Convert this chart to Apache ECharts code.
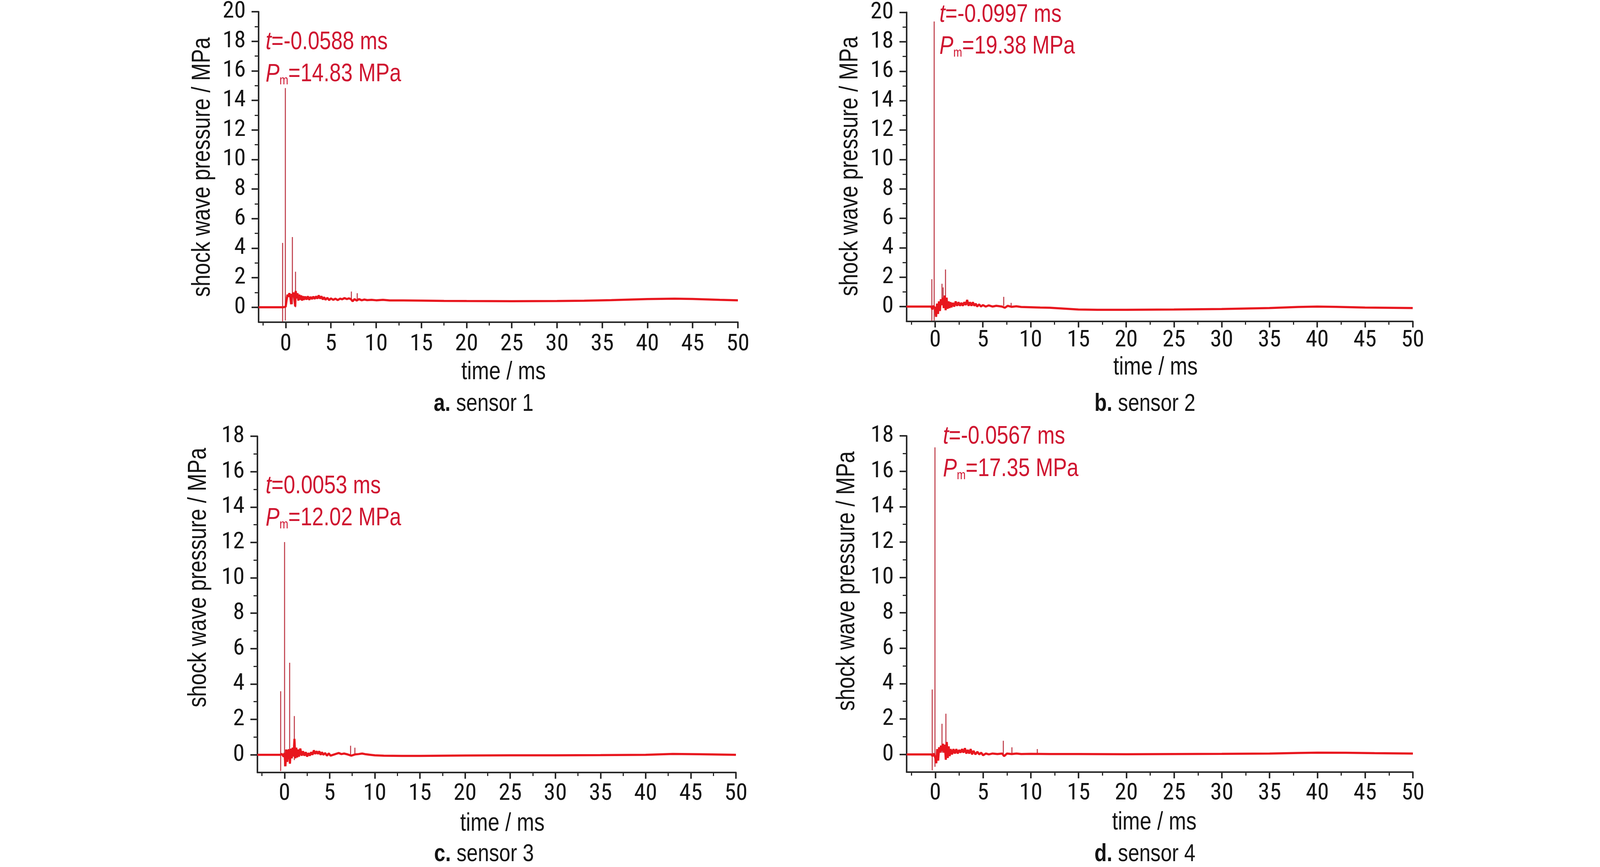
<!DOCTYPE html>
<html>
<head>
<meta charset="utf-8">
<script src="https://cdn.jsdelivr.net/npm/echarts@6/dist/echarts.min.js"></script>
<style>
html,body{margin:0;padding:0;background:#fff;}
#chart{width:4134px;height:2220px;}
</style>
</head>
<body>
<div id="chart"></div>
<script>
// ---------------- data ----------------
const xTicks = [0, 5, 10, 15, 20, 25, 30, 35, 40, 45, 50];
const xMinorTicks = [-2.5, 2.5, 7.5, 12.5, 17.5, 22.5, 27.5, 32.5, 37.5, 42.5, 47.5];
const yTicks20 = [0, 2, 4, 6, 8, 10, 12, 14, 16, 18, 20];
const yMinor20 = [1, 3, 5, 7, 9, 11, 13, 15, 17, 19];
const yTicks18 = [0, 2, 4, 6, 8, 10, 12, 14, 16, 18];
const yMinor18 = [1, 3, 5, 7, 9, 11, 13, 15, 17];

const captionLetters = ['a.', 'b.', 'c.', 'd.'];
const captionNames = ['sensor 1', 'sensor 2', 'sensor 3', 'sensor 4'];
const peakTimes = ['-0.0588', '-0.0997', '0.0053', '-0.0567'];
const peakPressures = ['14.83', '19.38', '12.02', '17.35'];

// main traces [time ms, pressure MPa]
const traceA = [[-3,0],[-0.4,0],[-0.3,0],[-0.1,0.02],[0,0.05],[0.1,0.5],[0.2,0.85],[0.3,0.7],[0.4,0.95],[0.5,0.75],[0.6,0.2],[0.65,0.9],[0.75,0.7],[0.85,1.0],[0.95,0.55],[1.05,0.05],[1.1,1.1],[1.2,0.6],[1.3,0.95],[1.4,0.45],[1.5,0.85],[1.6,0.5],[1.7,0.8],[1.8,0.45],[1.9,0.75],[2.0,0.5],[2.15,0.72],[2.3,0.52],[2.45,0.74],[2.6,0.5],[2.75,0.7],[2.9,0.55],[3.05,0.72],[3.2,0.56],[3.35,0.74],[3.5,0.58],[3.65,0.8],[3.8,0.58],[3.95,0.74],[4.1,0.52],[4.25,0.68],[4.4,0.5],[4.6,0.64],[4.8,0.48],[5.0,0.6],[5.25,0.5],[5.5,0.58],[5.75,0.48],[6.0,0.58],[6.25,0.54],[6.5,0.62],[6.75,0.55],[7.0,0.6],[7.2,0.55],[7.4,0.4],[7.6,0.55],[7.85,0.45],[8.1,0.55],[8.4,0.47],[8.7,0.52],[9.0,0.48],[9.5,0.5],[10,0.47],[10.75,0.5],[11.5,0.46],[13,0.46],[15,0.45],[17.5,0.43],[20,0.42],[25,0.41],[30,0.42],[33,0.44],[36,0.48],[40,0.55],[43,0.58],[45,0.56],[48,0.5],[50,0.47]];
const traceB = [[-3,0],[-0.4,0],[-0.3,-0.2],[-0.2,0.05],[0,-0.1],[0.1,-0.7],[0.2,0.2],[0.3,-0.5],[0.4,0.35],[0.5,-0.3],[0.6,0.5],[0.7,0.1],[0.8,0.6],[0.9,-0.1],[1.0,0.75],[1.1,-0.25],[1.2,0.6],[1.3,-0.15],[1.4,0.35],[1.5,-0.1],[1.6,0.3],[1.7,-0.05],[1.85,0.25],[2.0,0.0],[2.15,0.35],[2.3,0.05],[2.45,0.3],[2.6,0.05],[2.75,0.25],[2.9,0.05],[3.05,0.3],[3.2,0.1],[3.35,0.45],[3.5,0.05],[3.65,0.3],[3.8,0.05],[3.95,0.3],[4.1,0.05],[4.25,0.2],[4.4,0.0],[4.6,0.15],[4.8,0.0],[5.0,0.1],[5.3,0.0],[5.6,0.08],[6.0,0.0],[6.4,0.05],[7.0,0.0],[7.3,-0.08],[7.6,0.05],[8.0,-0.02],[8.5,0.02],[9,-0.03],[10,-0.05],[11,-0.07],[12,-0.08],[13,-0.12],[14,-0.16],[15,-0.2],[17,-0.22],[20,-0.22],[25,-0.2],[30,-0.17],[35,-0.1],[38,-0.03],[40,0.0],[42,-0.02],[45,-0.07],[50,-0.1]];
const traceC = [[-3,0],[-0.45,0],[-0.3,0.05],[-0.1,-0.1],[0,0.1],[0.1,-0.65],[0.2,0.3],[0.3,-0.4],[0.4,0.2],[0.5,0.3],[0.6,-0.5],[0.7,0.35],[0.8,-0.2],[0.9,0.4],[1.0,-0.1],[1.1,0.9],[1.2,-0.2],[1.3,0.4],[1.4,-0.15],[1.5,0.3],[1.6,-0.1],[1.75,0.35],[1.9,-0.05],[2.05,0.2],[2.2,-0.05],[2.35,0.15],[2.5,-0.1],[2.65,0.1],[2.8,-0.05],[2.95,0.15],[3.1,0.0],[3.25,0.25],[3.4,0.05],[3.55,0.2],[3.7,0.05],[3.85,0.2],[4.0,0.0],[4.15,0.15],[4.3,0.0],[4.5,0.1],[4.7,-0.05],[4.9,0.08],[5.1,-0.05],[5.4,0.0],[5.7,0.05],[6.0,0.1],[6.3,0.04],[6.6,0.07],[7.0,0.02],[7.4,-0.05],[7.8,0.02],[8.2,0.04],[8.6,0.07],[9.0,0.03],[9.5,0.0],[10,-0.03],[11,-0.05],[13,-0.06],[15,-0.06],[20,-0.04],[25,-0.03],[30,-0.03],[35,-0.02],[40,0.0],[43,0.05],[46,0.03],[50,0.0]];
const traceD = [[-3,0],[-0.4,0],[-0.3,-0.1],[-0.15,0.05],[0,-0.2],[0.1,-0.5],[0.2,0.3],[0.3,-0.35],[0.4,0.4],[0.5,0.1],[0.6,0.5],[0.7,0.2],[0.8,0.6],[0.9,0.1],[1.0,0.55],[1.1,-0.3],[1.2,0.7],[1.3,-0.2],[1.4,0.45],[1.5,-0.1],[1.6,0.3],[1.75,0.0],[1.9,0.3],[2.05,0.05],[2.2,0.3],[2.35,0.05],[2.5,0.25],[2.65,0.1],[2.8,0.3],[2.95,0.1],[3.1,0.35],[3.25,0.05],[3.4,0.25],[3.55,0.05],[3.7,0.3],[3.85,0.0],[4.0,0.2],[4.2,0.0],[4.4,0.15],[4.6,0.0],[4.8,0.1],[5.0,-0.05],[5.3,0.05],[5.6,0.0],[6.0,0.05],[6.5,0.02],[7.0,0.05],[7.2,-0.1],[7.5,0.05],[8.0,0.02],[8.5,0.05],[9,0.02],[10,0.03],[12,0.02],[15,0.02],[20,0.01],[25,0.02],[30,0.03],[35,0.05],[38,0.08],[40,0.1],[43,0.09],[46,0.07],[50,0.05]];

// spikes [time ms, low MPa, high MPa]
const spikesA = [[-0.36,-0.97,4.35],[-0.0588,-0.9,14.83],[0.72,0.2,4.75],[1.08,0.0,2.4],[7.26,0.45,1.06],[7.9,0.45,0.95]];
const spikesB = [[-0.37,-0.97,1.86],[-0.0997,-0.95,19.38],[0.7,0.1,1.55],[0.85,0.2,1.3],[1.06,-0.2,2.52],[7.17,0.05,0.66],[7.95,0.0,0.25]];
const spikesC = [[-0.43,-0.92,3.59],[0.0053,-0.65,12.02],[0.58,-0.5,5.2],[1.08,-0.3,2.19],[7.3,0.0,0.51],[7.77,0.0,0.4]];
const spikesD = [[-0.34,-0.9,3.67],[-0.0567,-0.7,17.35],[0.71,0.1,1.73],[1.11,-0.3,2.3],[7.13,-0.1,0.77],[8.0,0.0,0.4],[10.65,0.0,0.3]];

const traces = [traceA, traceB, traceC, traceD];
const spikes = [spikesA, spikesB, spikesC, spikesD];
const yMax = [20, 20, 18, 18];

// ---------------- layout / style ----------------
const FONT = "'Liberation Sans', Arial, sans-serif";
const TICK_FONT = "'Roboto Condensed', 'Liberation Sans', sans-serif";
const NARROW = 0.82;
const INK = '#141414';
const AXIS = '#2a2a2a';
const RED_TXT = '#cf1530';
const RED_LINE = '#e8161e';
const SPIKE = '#c0404c';

const grids = [
  {left: 662, top: 29.5, width: 1227, height: 795},
  {left: 2320.6, top: 31.6, width: 1296, height: 791},
  {left: 659, top: 1117, width: 1225, height: 861},
  {left: 2321, top: 1116, width: 1296, height: 861}
];
const xLabelMargin = [27, 19, 25, 25];
const yNamePos = [[519, 428], [2177, 426], [509, 1479], [2169, 1488]];
const xNamePos = [[1289, 953], [2958, 941], [1286, 2109], [2955, 2106]];
const capPos = [[1238, 1035], [2931, 1035], [1239, 2188], [2931, 2188]];
const annPos = [[680, 108, 185], [2405, 38, 114], [680, 1245, 1322], [2414, 1118, 1196]];

const xAxes = [], yAxes = [], series = [], graphic = [];
grids.forEach((g, i) => {
  const yt = yMax[i] === 20 ? yTicks20 : yTicks18;
  const ym = yMax[i] === 20 ? yMinor20 : yMinor18;
  xAxes.push({
    type: 'value', gridIndex: i, min: -3, max: 50, position: 'bottom',
    axisLine: {show: true, onZero: false, lineStyle: {color: AXIS, width: 4}},
    axisTick: {show: true, customValues: xTicks, length: 16, lineStyle: {color: AXIS, width: 4}},
    axisLabel: {show: true, customValues: xTicks, margin: xLabelMargin[i], fontSize: 60, color: INK, fontFamily: TICK_FONT},
    splitLine: {show: false}
  });
  xAxes.push({
    type: 'value', gridIndex: i, min: -3, max: 50, position: 'bottom',
    axisLine: {show: false, onZero: false},
    axisTick: {show: true, customValues: xMinorTicks, length: 9, lineStyle: {color: AXIS, width: 3}},
    axisLabel: {show: false, customValues: xMinorTicks},
    splitLine: {show: false}
  });
  yAxes.push({
    type: 'value', gridIndex: i, min: -1, max: yMax[i], position: 'left',
    axisLine: {show: true, onZero: false, lineStyle: {color: AXIS, width: 4}},
    axisTick: {show: true, customValues: yt, length: 18, lineStyle: {color: AXIS, width: 4}},
    axisLabel: {show: true, customValues: yt, margin: 33, fontSize: 60, color: INK, fontFamily: TICK_FONT},
    splitLine: {show: false}
  });
  yAxes.push({
    type: 'value', gridIndex: i, min: -1, max: yMax[i], position: 'left',
    axisLine: {show: false, onZero: false},
    axisTick: {show: true, customValues: ym, length: 10, lineStyle: {color: AXIS, width: 3}},
    axisLabel: {show: false, customValues: ym},
    splitLine: {show: false}
  });
  series.push({
    type: 'lines', coordinateSystem: 'cartesian2d', xAxisIndex: 2 * i, yAxisIndex: 2 * i,
    z: 2, silent: true,
    lineStyle: {color: SPIKE, width: 3, opacity: 0.9},
    data: spikes[i].map(s => ({coords: [[s[0], s[1]], [s[0], s[2]]]}))
  });
  series.push({
    type: 'line', xAxisIndex: 2 * i, yAxisIndex: 2 * i, z: 3, silent: true,
    showSymbol: false, symbol: 'none', animation: false,
    lineStyle: {color: RED_LINE, width: 5.5},
    data: traces[i]
  });

  graphic.push({
    type: 'text', x: yNamePos[i][0], y: yNamePos[i][1], rotation: Math.PI / 2, scaleX: NARROW,
    style: {text: 'shock wave pressure / MPa', fontSize: 66, fontFamily: FONT, fill: INK, align: 'center', verticalAlign: 'middle'}
  });
  graphic.push({
    type: 'text', x: xNamePos[i][0], y: xNamePos[i][1], scaleX: NARROW,
    style: {text: 'time / ms', fontSize: 65, fontFamily: FONT, fill: INK, align: 'center', verticalAlign: 'middle'}
  });
  graphic.push({
    type: 'text', x: capPos[i][0], y: capPos[i][1], scaleX: NARROW,
    style: {
      text: '{b|' + captionLetters[i] + '}{n| ' + captionNames[i] + '}',
      align: 'center', verticalAlign: 'middle', fill: INK,
      rich: {
        b: {fontSize: 63, fontWeight: 'bold', fontFamily: FONT, fill: INK},
        n: {fontSize: 63, fontFamily: FONT, fill: INK}
      }
    }
  });
  graphic.push({
    type: 'text', x: annPos[i][0], y: annPos[i][1], scaleX: NARROW,
    style: {
      text: '{it|t}{n|=' + peakTimes[i] + ' ms}',
      align: 'left', verticalAlign: 'middle', fill: RED_TXT,
      rich: {
        it: {fontSize: 65, fontStyle: 'italic', fontFamily: FONT, fill: RED_TXT},
        n: {fontSize: 65, fontFamily: FONT, fill: RED_TXT}
      }
    }
  });
  graphic.push({
    type: 'text', x: annPos[i][0], y: annPos[i][2], scaleX: NARROW,
    style: {
      text: '{it|P}{sub|m}{n|=' + peakPressures[i] + ' MPa}',
      align: 'left', verticalAlign: 'middle', fill: RED_TXT,
      rich: {
        it: {fontSize: 65, fontStyle: 'italic', fontFamily: FONT, fill: RED_TXT, lineHeight: 76, verticalAlign: 'bottom'},
        sub: {fontSize: 33, fontFamily: FONT, fill: RED_TXT, lineHeight: 24, verticalAlign: 'bottom'},
        n: {fontSize: 65, fontFamily: FONT, fill: RED_TXT, lineHeight: 76, verticalAlign: 'bottom'}
      }
    }
  });
});

const chart = echarts.init(document.getElementById('chart'), null, {renderer: 'canvas', devicePixelRatio: 1});
chart.setOption({
  animation: false,
  backgroundColor: '#ffffff',
  grid: grids.map(g => Object.assign({containLabel: false}, g)),
  xAxis: xAxes,
  yAxis: yAxes,
  series: series,
  graphic: graphic
});
</script>
</body>
</html>
